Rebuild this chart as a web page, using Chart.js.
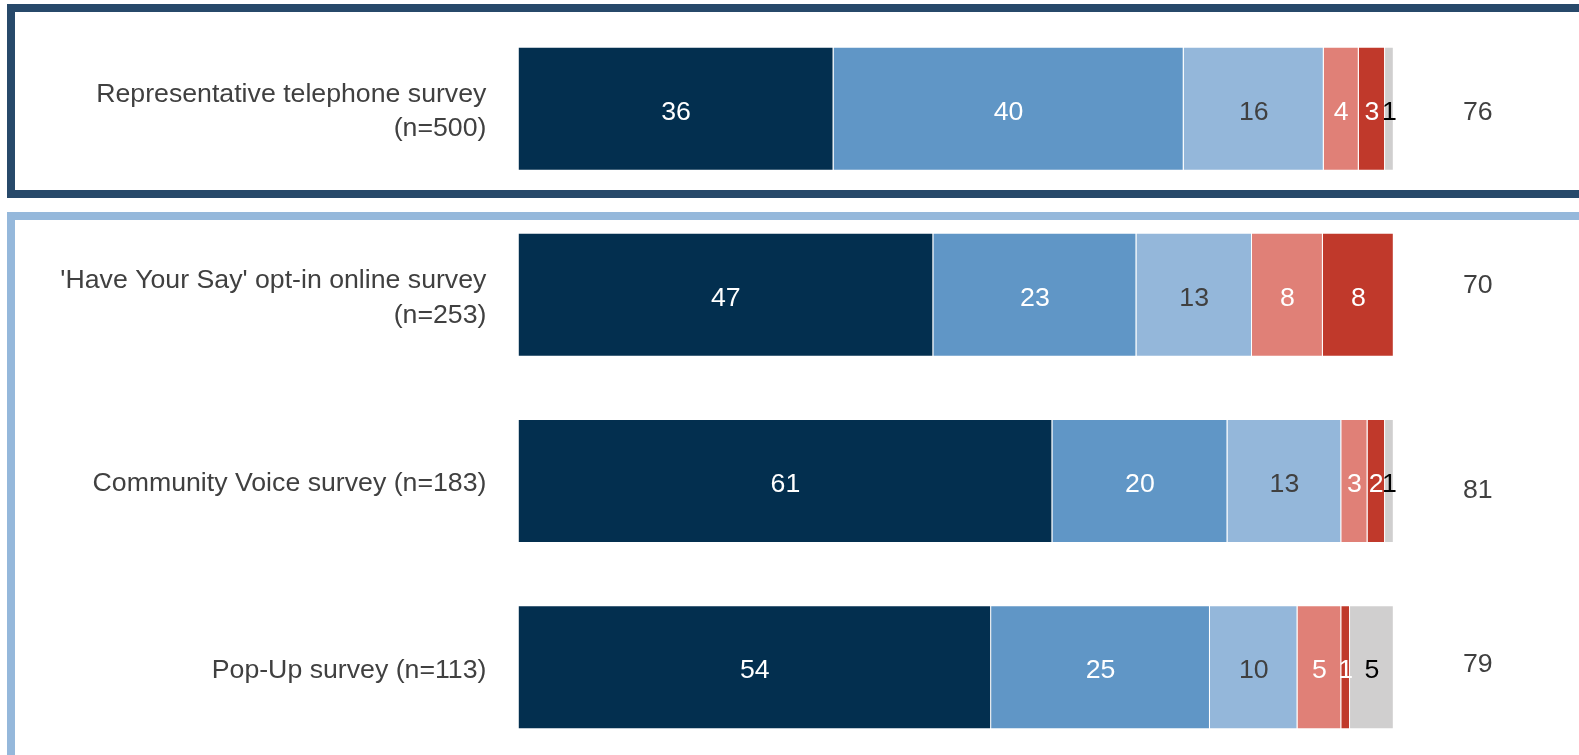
<!DOCTYPE html>
<html>
<head>
<meta charset="utf-8">
<title>Survey comparison</title>
<script src="https://cdn.jsdelivr.net/npm/chart.js@4.4.1/dist/chart.umd.min.js"></script>
<style>
    html, body { margin: 0; padding: 0; background: #ffffff; overflow: hidden; }
    #wrap { position: relative; width: 1579px; height: 775px; }
</style>
</head>
<body>
<div id="wrap"><canvas id="surveyChart"></canvas></div>
<script>
const categories = [
    ['Representative telephone survey', '(n=500)'],
    ["'Have Your Say' opt-in online survey", '(n=253)'],
    'Community Voice survey (n=183)',
    'Pop-Up survey (n=113)'
];

// percentages per response group, one value per survey
const verySatisfied      = [36, 47.4, 61, 54];
const fairlySatisfied    = [40, 23.2, 20, 25];
const neitherNor         = [16, 13.2, 13, 10];
const fairlyDissatisfied = [4, 8.1, 3, 5];
const veryDissatisfied   = [3, 8.1, 2, 1];
const dontKnow           = [1, 0, 1, 5];

// total satisfied, shown to the right of each bar
const netSatisfied = [76, 70, 81, 79];

const FONT = '"Liberation Sans", Arial, sans-serif';
const FONT_SIZE = 26.7;
const TEXT_GREY = '#404040';

const series = [
    { label: 'Very satisfied', data: verySatisfied, color: '#032f4f', text: '#ffffff' },
    { label: 'Fairly satisfied', data: fairlySatisfied, color: '#6096c6', text: '#ffffff' },
    { label: 'Neither satisfied nor dissatisfied', data: neitherNor, color: '#94b7da', text: TEXT_GREY },
    { label: 'Fairly dissatisfied', data: fairlyDissatisfied, color: '#e08077', text: '#ffffff' },
    { label: 'Very dissatisfied', data: veryDissatisfied, color: '#c0392b', text: '#ffffff' },
    { label: "Don't know", data: dontKnow, color: '#d0cfcf', text: '#000000' }
];

// two framed panels behind the bars
const panelFrames = {
    id: 'panelFrames',
    beforeDraw(chart) {
        const ctx = chart.ctx;
        ctx.save();
        ctx.lineWidth = 8;
        ctx.strokeStyle = '#27496a';
        ctx.strokeRect(11, 8, 1590, 186);
        ctx.strokeStyle = '#95b8db';
        ctx.strokeRect(11, 216, 1590, 600);
        ctx.restore();
    }
};

// numbers inside the segments and the net column on the right
const barLabels = {
    id: 'barLabels',
    afterDatasetsDraw(chart) {
        const ctx = chart.ctx;
        ctx.save();
        ctx.font = FONT_SIZE + 'px ' + FONT;
        ctx.textAlign = 'center';
        ctx.textBaseline = 'middle';
        chart.data.datasets.forEach((ds, i) => {
            const meta = chart.getDatasetMeta(i);
            meta.data.forEach((bar, j) => {
                const v = ds.data[j];
                if (!v) return;
                ctx.fillStyle = series[i].text;
                ctx.fillText(Math.round(v), (bar.x + bar.base) / 2, bar.y + 3.5);
            });
        });

        const yScale = chart.scales.y;
        const nudge = [4, -9, 10, -3];
        ctx.fillStyle = TEXT_GREY;
        netSatisfied.forEach((n, j) => {
            ctx.fillText(n, chart.chartArea.right + 84, yScale.getPixelForValue(j) + nudge[j]);
        });
        ctx.restore();
    }
};

const ctx = document.getElementById('surveyChart').getContext('2d');
new Chart(ctx, {
    type: 'bar',
    data: {
        labels: categories,
        datasets: series.map(s => ({
            label: s.label,
            data: s.data,
            backgroundColor: s.color,
            borderColor: 'rgba(255, 255, 255, 0.35)',
            borderWidth: 1,
            barPercentage: 0.666,
            categoryPercentage: 1
        }))
    },
    options: {
        indexAxis: 'y',
        responsive: true,
        maintainAspectRatio: false,
        animation: false,
        layout: {
            padding: { top: 15.6, bottom: 14.7, left: 0, right: 185.2 }
        },
        plugins: {
            legend: { display: false },
            tooltip: { enabled: false }
        },
        scales: {
            x: {
                stacked: true,
                min: 0,
                max: 100,
                display: false
            },
            y: {
                stacked: true,
                grid: { display: false, drawTicks: false },
                border: { display: false },
                ticks: {
                    color: TEXT_GREY,
                    padding: 32,
                    labelOffset: 3,
                    font: { family: FONT, size: FONT_SIZE, lineHeight: 1.3 }
                },
                afterFit(scale) {
                    scale.width = 518.4;
                    scale.paddingTop = 0;
                    scale.paddingBottom = 0;
                }
            }
        }
    },
    plugins: [panelFrames, barLabels]
});
</script>
</body>
</html>
